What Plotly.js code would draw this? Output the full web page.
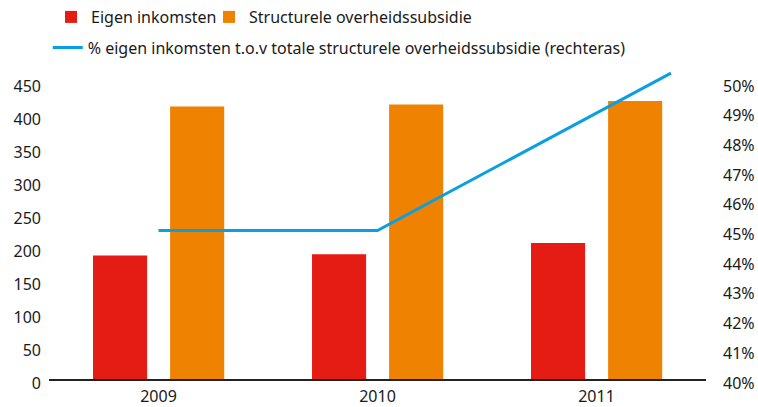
<!DOCTYPE html>
<html>
<head>
<meta charset="utf-8">
<script src="https://cdn.plot.ly/plotly-3.0.1.min.js"></script>
<style>html,body{margin:0;padding:0;background:#fff;}#chart{width:758px;height:407px;}</style>
</head>
<body>
<div id="chart"></div>
<script>
// Data
const years = [2009, 2010, 2011];
const eigenInkomsten = [187, 189, 206];
const overheidssubsidie = [413, 416, 421];
const lineYears = [2009, 2010, 2011.34];
const pctEigen = [45.0, 45.0, 50.3];
const leftTicks = [0, 50, 100, 150, 200, 250, 300, 350, 400, 450];
const rightTicks = [40, 41, 42, 43, 44, 45, 46, 47, 48, 49, 50];
const names = ["Eigen inkomsten", "Structurele overheidssubsidie", "% eigen inkomsten t.o.v totale structurele overheidssubsidie (rechteras)"];

const FONT = "'Noto Sans', 'Open Sans', sans-serif";
const leftMax = 483.3;

const traces = [
  {type: 'bar', x: years, y: eigenInkomsten, name: names[0], marker: {color: '#e41c13'},
   width: 0.247, offset: -0.299, legend: 'legend', hoverinfo: 'skip'},
  {type: 'bar', x: years, y: overheidssubsidie, name: names[1], marker: {color: '#ef8200'},
   width: 0.247, offset: 0.053, legend: 'legend3', hoverinfo: 'skip'},
  {type: 'scatter', mode: 'lines', x: lineYears, y: pctEigen, name: names[2], yaxis: 'y2',
   line: {color: '#0a9fe0', width: 3}, legend: 'legend2', hoverinfo: 'skip', cliponaxis: false}
];

const legendBase = {
  orientation: 'h', xref: 'container', yref: 'container',
  xanchor: 'left', yanchor: 'top', font: {size: 16}, bgcolor: 'rgba(0,0,0,0)',
  itemclick: false, itemdoubleclick: false
};

const layout = {
  width: 758, height: 407,
  margin: {l: 49, r: 52, t: 60, b: 28, autoexpand: false},
  paper_bgcolor: '#fff', plot_bgcolor: '#fff',
  font: {family: FONT, size: 16, color: '#1a1a1a'},
  barmode: 'overlay',
  showlegend: true,
  xaxis: {
    range: [2008.5, 2011.5], tickvals: years, ticktext: years.map(String),
    showgrid: false, zeroline: false, showline: true, linecolor: '#222', linewidth: 2,
    ticks: '', ticklabelstandoff: 2, tickfont: {size: 16}, fixedrange: true, automargin: false
  },
  yaxis: {
    range: [0, leftMax], tickvals: leftTicks, showgrid: false, zeroline: false,
    showline: false, ticks: '', ticklabelstandoff: 7, ticklabelshift: 4,
    tickfont: {size: 16}, fixedrange: true, automargin: false
  },
  yaxis2: {
    overlaying: 'y', side: 'right', range: [40, 40 + leftMax / 45], tickvals: rightTicks,
    ticktext: rightTicks.map(v => v + '%'), showgrid: false, zeroline: false, showline: false,
    ticks: '', ticklabelstandoff: 16, ticklabelshift: 4, tickfont: {size: 16}, fixedrange: true,
    automargin: false
  },
  legend: Object.assign({}, legendBase, {x: 0.0673, y: 1.0}),
  legend3: Object.assign({}, legendBase, {x: 0.2757, y: 1.0}),
  legend2: Object.assign({}, legendBase, {x: 0.063, y: 0.925})
};

Plotly.newPlot('chart', traces, layout, {displayModeBar: false, staticPlot: true});
</script>
</body>
</html>
